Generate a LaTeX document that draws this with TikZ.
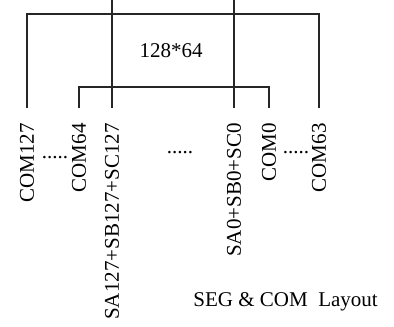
\documentclass[tikz,border=0pt]{standalone}
\usepackage{fontspec}
\setmainfont{Liberation Serif}
\usetikzlibrary{positioning}

\begin{document}
\begin{tikzpicture}[x=0.5pt,y=-0.5pt,
    txt/.style={font=\fontsize{10.5}{12}\selectfont,inner sep=0pt},
    pin/.style={txt,rotate=90,anchor=east,inner xsep=7.5pt},
    wire/.style={line width=0.55pt,black!85}]
    \useasboundingbox (0,0) rectangle (394,326);
    % bus corners and free ends
    \coordinate (tl) at (27,14);
    \coordinate (tr) at (319,14);
    \coordinate (il) at (79,87);
    \coordinate (ir) at (269,87);
    \coordinate (segA) at (112,0);
    \coordinate (segB) at (234,0);
    % pin labels
    \node[pin] (com127) at (27,108) {COM127};
    \node[pin] (com64) at (79,108) {COM64};
    \node[pin] (sa127) at (112,108) {SA127+SB127+SC127};
    \node[pin] (sa0) at (234,108) {SA0+SB0+SC0};
    \node[pin] (com0) at (269,108) {COM0};
    \node[pin] (com63) at (319,108) {COM63};
    % gaps
    \node[txt,anchor=base] (dotsL) at (55,158) {.....};
    \node[txt,anchor=base] (dotsM) at (180,153) {.....};
    \node[txt,anchor=base] (dotsR) at (296,153) {.....};
    % texts
    \node[txt] (title) at (171,51) {128*64};
    \node[txt,anchor=base west] (caption) at (193,306) {SEG \& COM\ \ Layout};
    % wiring
    \draw[wire] (com127.east) -- (tl) -- (tr) -- (com63.east);
    \draw[wire] (com64.east) -- (il) -- (ir) -- (com0.east);
    \draw[wire] (segA) -- (sa127.east);
    \draw[wire] (segB) -- (sa0.east);
\end{tikzpicture}
\end{document}
